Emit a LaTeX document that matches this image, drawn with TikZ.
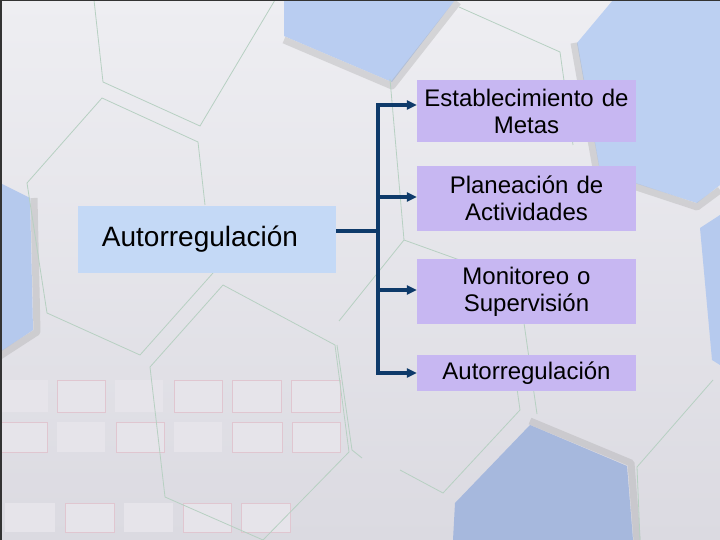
\documentclass[tikz,border=0pt]{standalone}
\usepackage{fontspec}
\setmainfont{Liberation Sans}
\usetikzlibrary{arrows.meta,calc}
\definecolor{bgtop}{HTML}{EEEEF2}
\definecolor{bgbot}{HTML}{DBDAE1}
\definecolor{hexblue}{HTML}{B9CDF1}
\definecolor{hexblueb}{HTML}{A6B8DD}
\definecolor{hexgreen}{HTML}{B7D0C2}
\definecolor{recpink}{HTML}{E0C6D0}
\definecolor{recfill}{HTML}{E6E4EA}
\definecolor{lboxc}{HTML}{C4D9F6}
\definecolor{rboxc}{HTML}{C7B7F2}
\definecolor{connc}{HTML}{0E3A6A}
\begin{document}
\begin{tikzpicture}[x=1bp,y=-1bp,
  hexline/.style={draw=hexgreen,line width=0.8bp},
  hexshadow/.style={draw=gray!70,line width=7bp,opacity=0.35,line join=round},
  recbox/.style={draw=recpink,fill=recfill,line width=0.8bp},
  recfaint/.style={fill=recfill,draw=none},
  lbox/.style={fill=lboxc,inner sep=0pt,minimum width=258bp,minimum height=67bp,
    font=\fontsize{28bp}{32bp}\selectfont},
  rbox/.style={fill=rboxc,inner xsep=2bp,inner ysep=0pt,minimum width=219bp,
    text width=215bp,align=center,font=\fontsize{24bp}{27bp}\selectfont},
  conn/.style={draw=connc,line width=3.3bp},
  tip/.style={-{Triangle[length=10bp,width=9bp]}}
]
% background
\useasboundingbox (0,0) rectangle (720,540);
\shade[top color=bgtop,bottom color=bgbot] (0,0) rectangle (720,540);
% blue hexagon pieces
\fill[hexblue] (284,0) -- (455,0) -- (392,82) -- (284,36) -- cycle;
\draw[hexshadow] (284,40) -- (392,86) -- (458,2);
\fill[hexblue!95!white] (613,0) -- (720,0) -- (720,185) -- (697,203) -- (600,172) -- (577,43) -- cycle;
\draw[hexshadow] (574,43) -- (597,174) -- (697,207) -- (720,190);
\fill[hexblue!85!hexblueb] (720,215) -- (700,228) -- (712,360) -- (720,365) -- cycle;
\fill[hexblue!80!hexblueb] (0,183) -- (30,198) -- (33,330) -- (0,352) -- cycle;
\draw[hexshadow] (34,198) -- (37,332) -- (0,356);
\fill[hexblueb] (530,425) -- (627,466) -- (633,540) -- (453,540) -- (455,503) -- cycle;
\draw[hexshadow] (530,421) -- (631,463) -- (637,540);
% pink rectangles
\foreach \xa/\xb/\st in {0/48/recfaint,57/105/recbox,115/163/recfaint,174/222/recbox,232/281/recbox,291/340/recbox}
  \path[\st] (\xa,380) rectangle (\xb,412);
\foreach \xa/\xb/\st in {0/47/recbox,57/105/recfaint,116/164/recbox,174/222/recfaint,232/282/recbox,292/340/recbox}
  \path[\st] (\xa,422) rectangle (\xb,452);
\foreach \xa/\xb/\st in {5/55/recfaint,65/114/recbox,124/173/recfaint,183/231/recbox,241/290/recbox}
  \path[\st] (\xa,503) rectangle (\xb,532);
% green hexagon outlines
\draw[hexline] (94,0) -- (103,82) -- (200,126) -- (275,0);
\draw[hexline] (205,205) -- (198,142) -- (102,98) -- (27,183) -- (47,313) -- (140,355) -- (213,273);
\draw[hexline] (223,285) -- (150,367) -- (165,497) -- (263,540);
\draw[hexline] (223,285) -- (335,345) -- (349,452) -- (263,540);
\draw[hexline] (337,345) -- (352,450) -- (362,458);
\draw[hexline] (390,79) -- (404,240) -- (518,281) -- (537,414);
\draw[hexline] (404,240) -- (339,321);
\draw[hexline] (459,7) -- (560,52) -- (573,145);
\draw[hexline] (400,470) -- (443,493) -- (520,410) -- (513,360);
\draw[hexline] (640,540) -- (637,467) -- (713,380);
% diagram
\node[lbox] (L) at (207,239.5) {Autorregulación\hspace*{14bp}};
\node[rbox,minimum height=62bp] (b1) at (526.5,111) {Establecimiento de\\Metas};
\node[rbox,minimum height=65bp] (b2) at (526.5,198.5) {Planeación de\\Actividades};
\node[rbox,minimum height=65bp] (b3) at (526.5,291.5) {Monitoreo o\\Supervisión};
\node[rbox,minimum height=36bp] (b4) at (526.5,373) {Autorregulación};
\coordinate (j) at (378,231);
\coordinate (t1) at (378,105);
\coordinate (t2) at (378,197);
\coordinate (t3) at (378,290);
\coordinate (t4) at (378,373);
\draw[conn] (L.east |- j) -- (j);
\draw[conn,line cap=rect] (t1) -- (t4);
\foreach \t/\b in {t1/b1,t2/b2,t3/b3,t4/b4}
  \draw[conn,tip] (\t) -- (\t -| \b.west);
% frame edges
\draw[black!80,line width=1.5bp] (0.75,540) -- (0.75,0.75) -- (720,0.75);
\end{tikzpicture}
\end{document}
